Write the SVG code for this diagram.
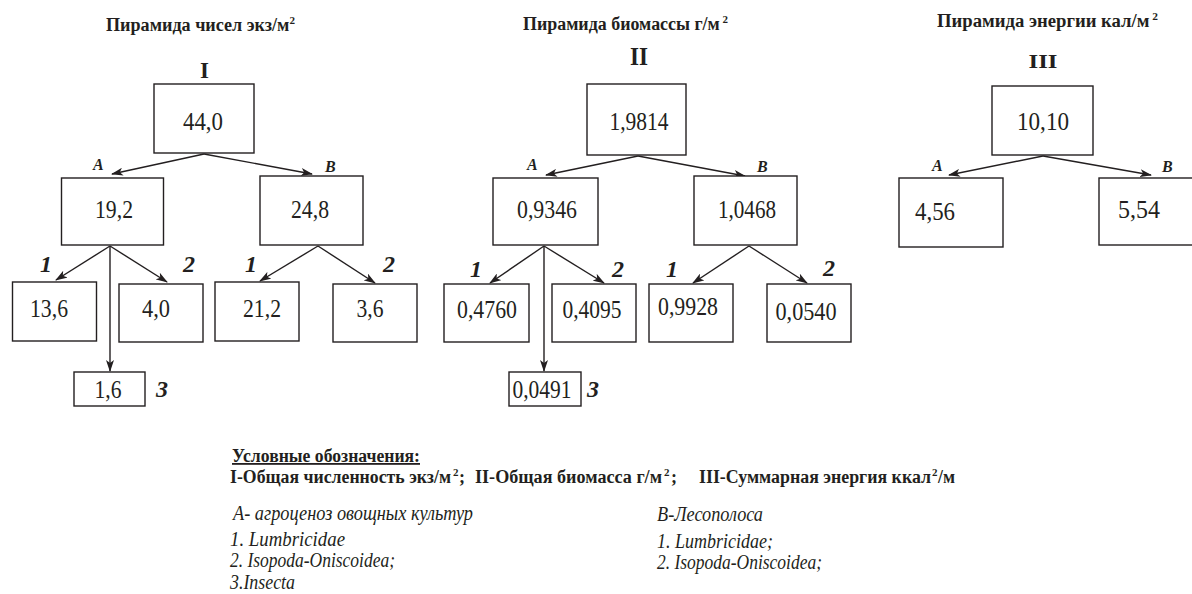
<svg xmlns="http://www.w3.org/2000/svg" width="1192" height="594" viewBox="0 0 1192 594">
<style>
.bx{fill:#fff;stroke:#231f20;stroke-width:1.4}
.ln{stroke:#231f20;stroke-width:1.4;fill:none;marker-end:url(#ah)}
.num{font-family:"Liberation Serif",serif;font-size:26px;fill:#231f20;text-anchor:middle}
.ttl{font-family:"Liberation Serif",serif;font-size:18px;font-weight:bold;fill:#231f20}
.rom{font-family:"Liberation Serif",serif;font-weight:bold;fill:#231f20;text-anchor:middle}
.lab{font-family:"Liberation Serif",serif;font-size:16px;font-weight:bold;font-style:italic;fill:#231f20}
.big{font-family:"Liberation Serif",serif;font-size:24px;font-weight:bold;font-style:italic;fill:#231f20}
.leg{font-family:"Liberation Serif",serif;font-size:18px;font-weight:bold;fill:#231f20}
.sup{font-family:"Liberation Serif",serif;font-size:11px;font-weight:bold;fill:#231f20}
.it{font-family:"Liberation Serif",serif;font-size:20px;font-style:italic;fill:#231f20}
</style>
<defs>
<marker id="ah" viewBox="0 0 12 8" refX="11" refY="4" markerWidth="12" markerHeight="8" markerUnits="userSpaceOnUse" orient="auto">
<path d="M0,0 L12,4 L0,8 L3,4 z" fill="#231f20"/>
</marker>
</defs>
<rect width="1192" height="594" fill="#fff"/>

<!-- Titles -->
<text class="ttl" x="106" y="31" textLength="189" lengthAdjust="spacingAndGlyphs">Пирамида чисел экз/м<tspan font-size="11" dy="-7">2</tspan></text>
<text class="ttl" x="523" y="30" textLength="205" lengthAdjust="spacingAndGlyphs">Пирамида биомассы г/м<tspan font-size="11" dy="-7"> 2</tspan></text>
<text class="ttl" x="937" y="27" textLength="221" lengthAdjust="spacingAndGlyphs">Пирамида энергии кал/м<tspan font-size="11" dy="-7"> 2</tspan></text>
<text class="rom" x="204.5" y="78" font-size="23">I</text>
<text class="rom" x="639" y="65" font-size="25" textLength="18" lengthAdjust="spacingAndGlyphs">II</text>
<text class="rom" x="1043" y="68" font-size="19" textLength="29" lengthAdjust="spacingAndGlyphs">III</text>

<!-- Connectors -->
<g id="connectors">
<line class="ln" x1="204" y1="154" x2="112" y2="174"/>
<line class="ln" x1="204" y1="154" x2="312" y2="174"/>
<line class="ln" x1="110" y1="246" x2="56" y2="280"/>
<line class="ln" x1="110" y1="246" x2="167" y2="282"/>
<line class="ln" x1="110" y1="246" x2="110" y2="371"/>
<line class="ln" x1="318" y1="246" x2="260" y2="281"/>
<line class="ln" x1="318" y1="246" x2="375" y2="283"/>

<line class="ln" x1="638" y1="156" x2="546" y2="175"/>
<line class="ln" x1="638" y1="156" x2="745" y2="176"/>
<line class="ln" x1="544" y1="246" x2="490" y2="283"/>
<line class="ln" x1="544" y1="246" x2="604" y2="283"/>
<line class="ln" x1="544" y1="246" x2="544" y2="371"/>
<line class="ln" x1="749" y1="246" x2="693" y2="283"/>
<line class="ln" x1="749" y1="246" x2="807" y2="283"/>

<line class="ln" x1="1043" y1="156" x2="949" y2="175"/>
<line class="ln" x1="1043" y1="156" x2="1151" y2="175"/>
</g>

<!-- Labels -->
<text class="lab" x="93" y="170">A</text>
<text class="lab" x="325" y="172">B</text>
<text class="big" x="40" y="272">1</text>
<text class="big" x="183" y="272">2</text>
<text class="big" x="245" y="272">1</text>
<text class="big" x="383" y="272">2</text>
<text class="big" x="156" y="397">3</text>

<text class="lab" x="527" y="170">A</text>
<text class="lab" x="757" y="172">B</text>
<text class="big" x="470" y="277">1</text>
<text class="big" x="612" y="277">2</text>
<text class="big" x="666" y="277">1</text>
<text class="big" x="823" y="276">2</text>
<text class="big" x="587" y="397">3</text>

<text class="lab" x="932" y="171">A</text>
<text class="lab" x="1162" y="172">B</text>

<!-- Pyramid I -->
<g id="n-I-top"><rect class="bx" x="154" y="84" width="100" height="69"/><text class="num" x="203" y="130" textLength="40" lengthAdjust="spacingAndGlyphs">44,0</text></g>
<g id="n-I-A"><rect class="bx" x="61.5" y="178" width="102" height="67"/><text class="num" x="114" y="218" textLength="38" lengthAdjust="spacingAndGlyphs">19,2</text></g>
<g id="n-I-B"><rect class="bx" x="260" y="176" width="103" height="69"/><text class="num" x="310" y="218" textLength="38" lengthAdjust="spacingAndGlyphs">24,8</text></g>
<g id="n-I-A1"><rect class="bx" x="12.5" y="282" width="84" height="59"/><text class="num" x="49" y="317" textLength="38" lengthAdjust="spacingAndGlyphs">13,6</text></g>
<g id="n-I-A2"><rect class="bx" x="119" y="284" width="84" height="58"/><text class="num" x="156" y="317" textLength="28" lengthAdjust="spacingAndGlyphs">4,0</text></g>
<g id="n-I-B1"><rect class="bx" x="215" y="282" width="84" height="59"/><text class="num" x="262" y="317" textLength="38" lengthAdjust="spacingAndGlyphs">21,2</text></g>
<g id="n-I-B2"><rect class="bx" x="333" y="284" width="84" height="58"/><text class="num" x="370" y="317" textLength="27" lengthAdjust="spacingAndGlyphs">3,6</text></g>
<g id="n-I-A3"><rect class="bx" x="74" y="372" width="71" height="34"/><text class="num" x="108" y="398" textLength="27" lengthAdjust="spacingAndGlyphs">1,6</text></g>

<!-- Pyramid II -->
<g id="n-II-top"><rect class="bx" x="587" y="84" width="99" height="71"/><text class="num" x="639" y="130" textLength="59" lengthAdjust="spacingAndGlyphs">1,9814</text></g>
<g id="n-II-A"><rect class="bx" x="493" y="178" width="105" height="67"/><text class="num" x="547" y="218" textLength="60" lengthAdjust="spacingAndGlyphs">0,9346</text></g>
<g id="n-II-B"><rect class="bx" x="694" y="176" width="103" height="69"/><text class="num" x="747" y="218" textLength="58" lengthAdjust="spacingAndGlyphs">1,0468</text></g>
<g id="n-II-A1"><rect class="bx" x="444" y="284" width="85" height="58"/><text class="num" x="487" y="318" textLength="60" lengthAdjust="spacingAndGlyphs">0,4760</text></g>
<g id="n-II-A2"><rect class="bx" x="552" y="284" width="84" height="58"/><text class="num" x="592" y="318" textLength="59" lengthAdjust="spacingAndGlyphs">0,4095</text></g>
<g id="n-II-B1"><rect class="bx" x="649" y="284" width="84" height="58"/><text class="num" x="688" y="315" textLength="60" lengthAdjust="spacingAndGlyphs">0,9928</text></g>
<g id="n-II-B2"><rect class="bx" x="767" y="284" width="84" height="58"/><text class="num" x="806" y="320" textLength="61" lengthAdjust="spacingAndGlyphs">0,0540</text></g>
<g id="n-II-A3"><rect class="bx" x="509" y="372" width="72" height="34"/><text class="num" x="542" y="398" textLength="59" lengthAdjust="spacingAndGlyphs">0,0491</text></g>

<!-- Pyramid III -->
<g id="n-III-top"><rect class="bx" x="992" y="86" width="101" height="69"/><text class="num" x="1043" y="130" textLength="52" lengthAdjust="spacingAndGlyphs">10,10</text></g>
<g id="n-III-A"><rect class="bx" x="899" y="178" width="104" height="69"/><text class="num" x="935" y="220" textLength="40" lengthAdjust="spacingAndGlyphs">4,56</text></g>
<g id="n-III-B"><rect class="bx" x="1099" y="178" width="100" height="67"/><text class="num" x="1139" y="218" textLength="42" lengthAdjust="spacingAndGlyphs">5,54</text></g>

<!-- Legend -->
<g id="legend">
<text class="leg" x="232" y="462" textLength="188" lengthAdjust="spacingAndGlyphs" text-decoration="underline">Условные обозначения:</text>
<text class="leg" x="230" y="483" textLength="221" lengthAdjust="spacingAndGlyphs">I-Общая численность  экз/м</text>
<text class="sup" x="453" y="476">2</text>
<text class="leg" x="459" y="483">;</text>
<text class="leg" x="475" y="483" textLength="187" lengthAdjust="spacingAndGlyphs">II-Общая  биомасса г/м</text>
<text class="sup" x="664" y="476">2</text>
<text class="leg" x="671" y="483">;</text>
<text class="leg" x="699" y="483" textLength="232" lengthAdjust="spacingAndGlyphs">III-Суммарная энергия  ккал</text>
<text class="sup" x="932" y="476">2</text>
<text class="leg" x="938" y="483" textLength="17" lengthAdjust="spacingAndGlyphs">/м</text>
<text class="it" x="233" y="520" textLength="240" lengthAdjust="spacingAndGlyphs">А- агроценоз овощных культур</text>
<text class="it" x="230" y="546" textLength="115" lengthAdjust="spacingAndGlyphs">1.  Lumbricidae</text>
<text class="it" x="230" y="567" textLength="165" lengthAdjust="spacingAndGlyphs">2. Isopoda-Oniscoidea;</text>
<text class="it" x="230" y="589" textLength="65" lengthAdjust="spacingAndGlyphs">3.Insecta</text>
<text class="it" x="657" y="521" textLength="106" lengthAdjust="spacingAndGlyphs">В-Лесополоса</text>
<text class="it" x="657" y="548" textLength="116" lengthAdjust="spacingAndGlyphs">1. Lumbricidae;</text>
<text class="it" x="657" y="569" textLength="165" lengthAdjust="spacingAndGlyphs">2. Isopoda-Oniscoidea;</text>
</g>
</svg>
